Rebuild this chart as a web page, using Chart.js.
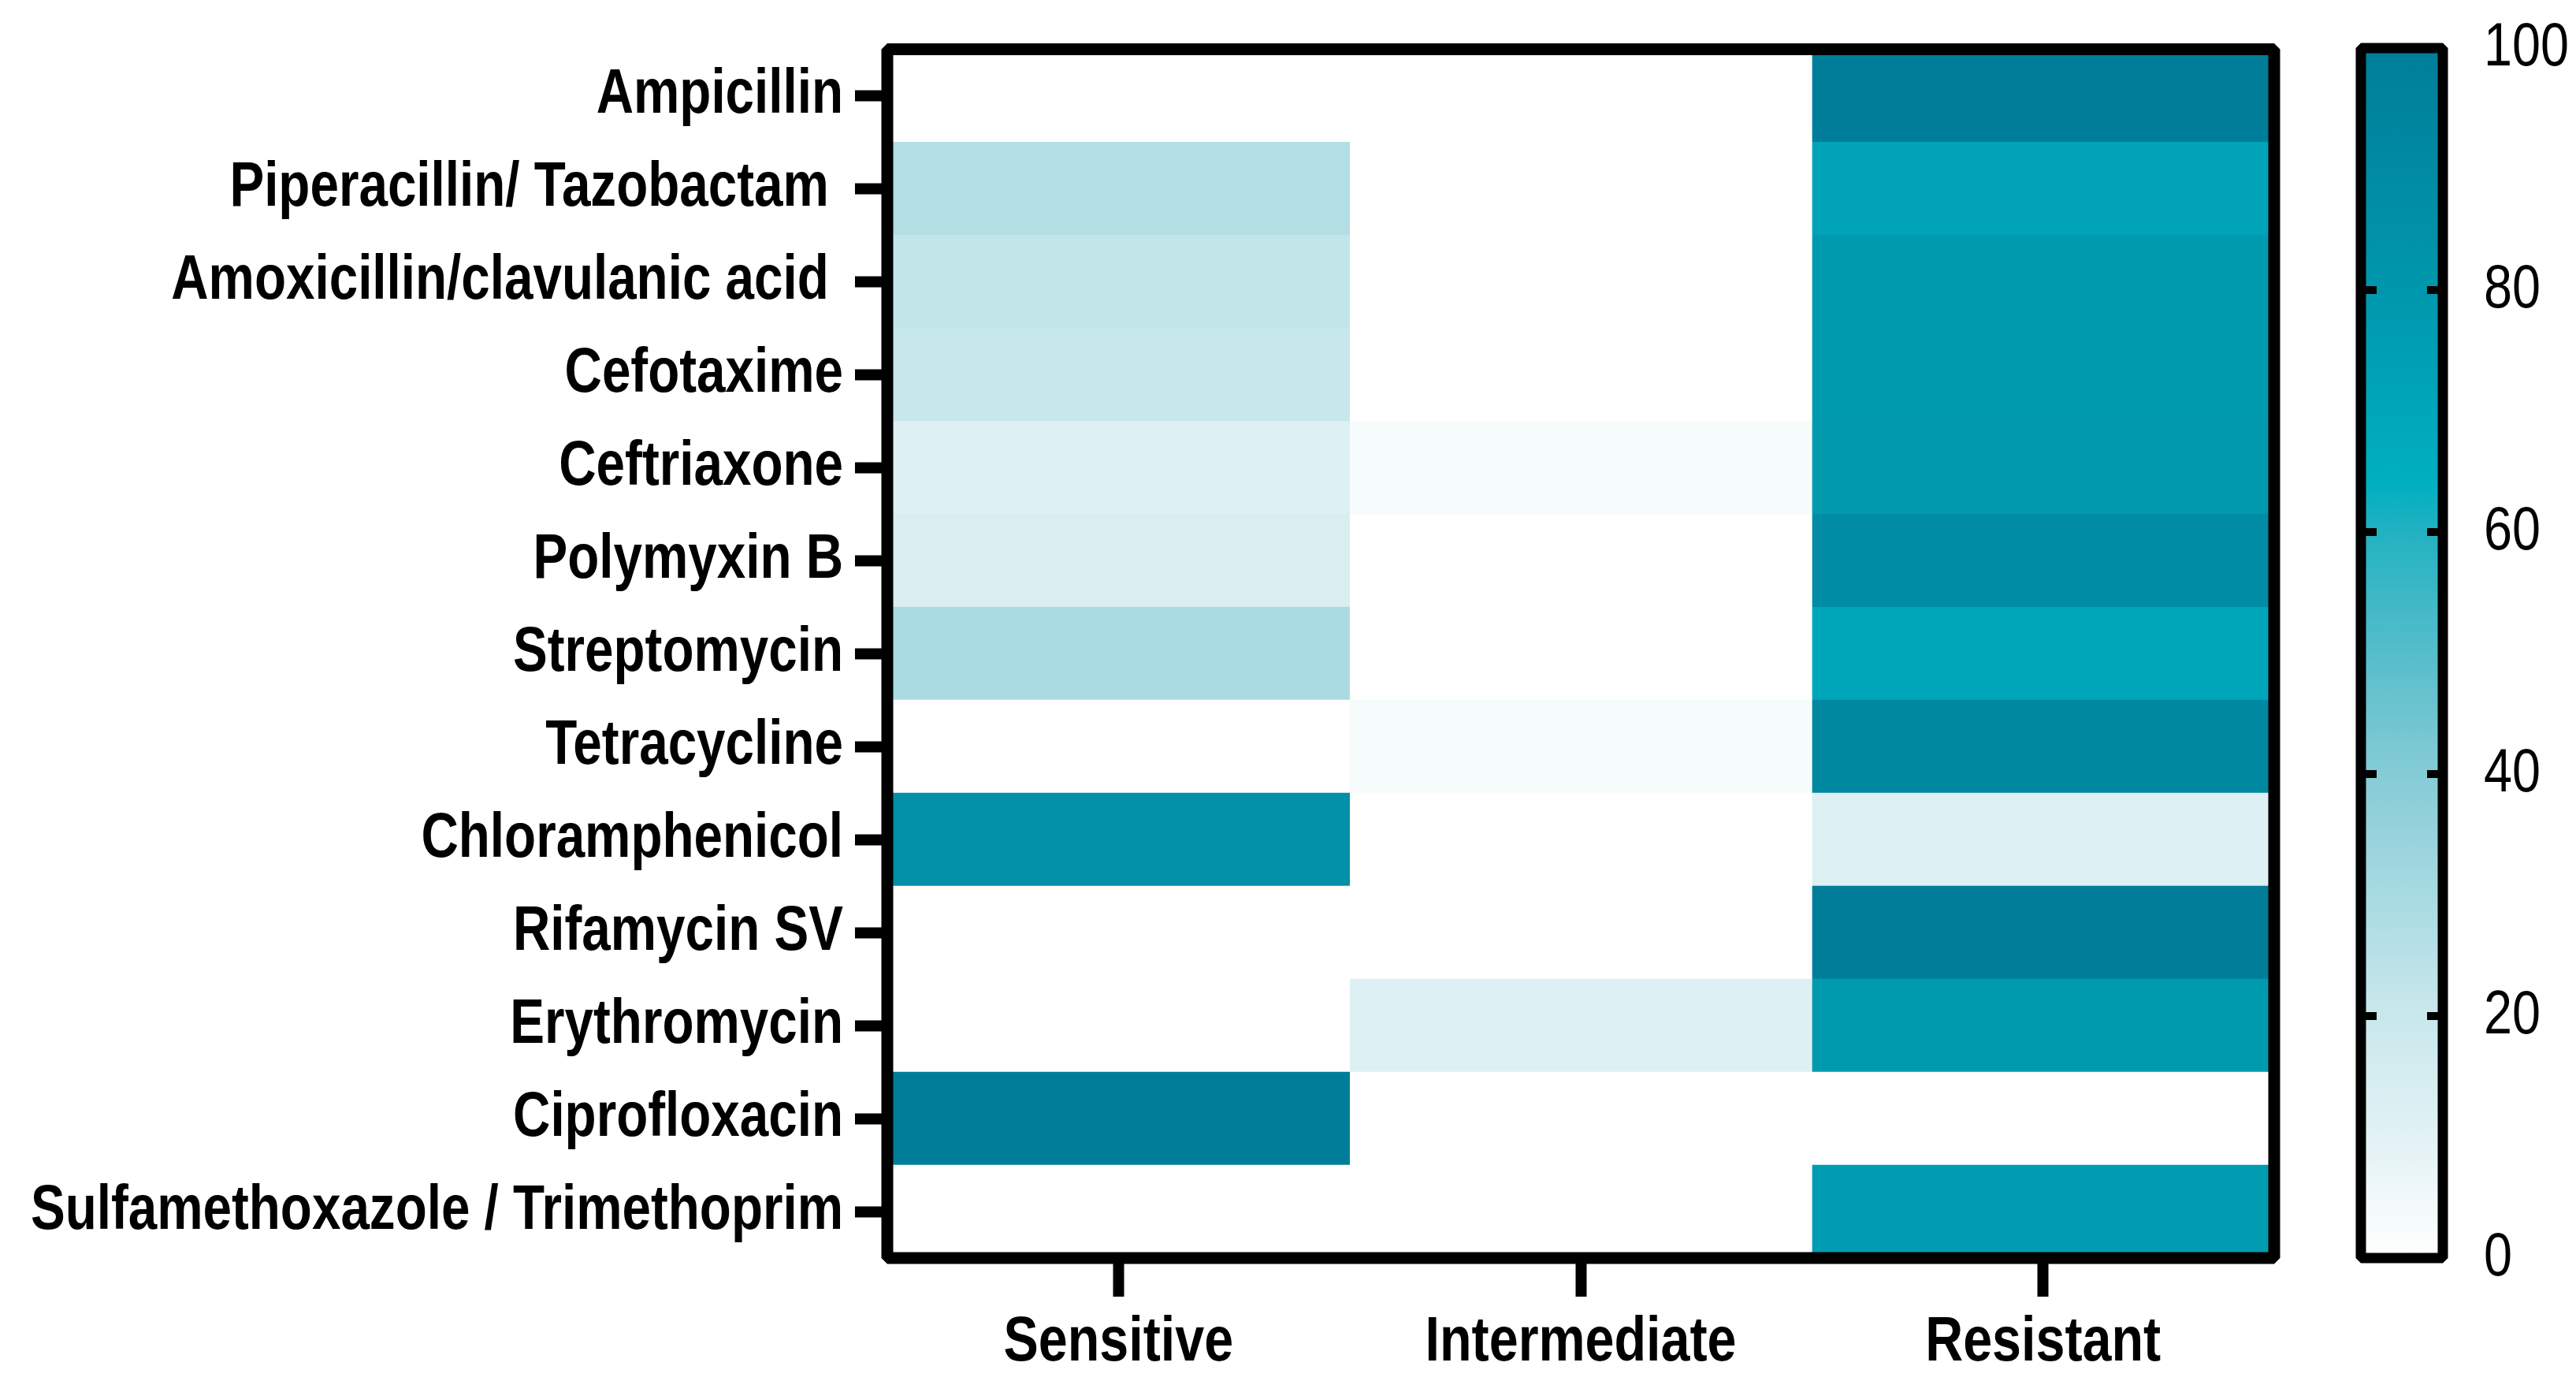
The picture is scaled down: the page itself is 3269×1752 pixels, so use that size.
<!DOCTYPE html>
<html>
<head>
<meta charset="utf-8">
<script src="https://cdn.jsdelivr.net/npm/chart.js@4.4.1/dist/chart.umd.min.js"></script>
<style>
  html, body { margin: 0; padding: 0; background: #fff; }
  #wrap { position: relative; width: 3269px; height: 1752px; }
  #heat { position: absolute; left: 0; top: 0; }
  #bar { position: absolute; left: 2960px; top: 0; }
</style>
</head>
<body>
<div id="wrap">
  <canvas id="heat" width="2960" height="1752"></canvas>
  <canvas id="bar" width="309" height="1752"></canvas>
</div>
<script>
const drugs = [
  'Ampicillin',
  'Piperacillin/ Tazobactam ',
  'Amoxicillin/clavulanic acid ',
  'Cefotaxime',
  'Ceftriaxone',
  'Polymyxin B',
  'Streptomycin',
  'Tetracycline',
  'Chloramphenicol',
  'Rifamycin SV',
  'Erythromycin',
  'Ciprofloxacin',
  'Sulfamethoxazole / Trimethoprim'
]
const columns = ['Sensitive', 'Intermediate', 'Resistant']

const sensitive = [0, 27, 22, 21, 12, 14, 29, 0, 86, 0, 0, 100, 0]
const intermediate = [0, 0, 0, 0, 3, 0, 0, 3, 0, 0, 12, 0, 0]
const resistant = [100, 72, 78, 78, 79, 89, 70, 92, 12, 100, 78, 0, 77]

const scaleTicks = [0, 20, 40, 60, 80, 100]

// colour scale
const stopValues = [0, 10, 20, 30, 40, 50, 60, 64, 80, 100]
const stopColors = ['#ffffff', '#e2f2f5', '#c9e8ec', '#a8dae1', '#85ccd6', '#56bdca', '#22b2c2', '#00afc0', '#0097ad', '#007e99']

const fontFamily = "'Liberation Sans', Arial, sans-serif"

// no narrow face installed, so squeeze the text horizontally
const condense = (canvas, k) => {
  const ctx = canvas.getContext('2d')
  const fill = ctx.fillText.bind(ctx)
  ctx.fillText = function (text, x, y, maxWidth) {
    this.save()
    this.translate(x, y)
    this.scale(k, 1)
    if (maxWidth === undefined) fill(text, 0, 0)
    else fill(text, 0, 0, maxWidth / k)
    this.restore()
  }
}

const hexToRgb = (h) => [1, 3, 5].map(i => parseInt(h.slice(i, i + 2), 16))

const colorFor = (v) => {
  let i = 1
  while (i < stopValues.length - 1 && v > stopValues[i]) i++
  const a = hexToRgb(stopColors[i - 1])
  const b = hexToRgb(stopColors[i])
  const t = Math.max(0, Math.min(1, (v - stopValues[i - 1]) / (stopValues[i] - stopValues[i - 1])))
  const c = a.map((x, k) => Math.round(x + (b[k] - x) * t))
  return `rgb(${c[0]}, ${c[1]}, ${c[2]})`
}

const framePlugin = (width) => ({
  id: 'frame',
  afterDraw(chart) {
    const { ctx, chartArea: a } = chart
    ctx.save()
    ctx.strokeStyle = '#000'
    ctx.lineWidth = width
    ctx.lineJoin = 'bevel'
    ctx.strokeRect(a.left, a.top, a.right - a.left, a.bottom - a.top)
    ctx.restore()
  }
})

// heatmap
const heatCanvas = document.getElementById('heat')
condense(heatCanvas, 0.83)
const valueRows = [sensitive, intermediate, resistant]

new Chart(heatCanvas, {
  type: 'bar',
  data: {
    labels: drugs,
    datasets: valueRows.map((vals, c) => ({
      label: columns[c],
      data: vals.map(() => [c, c + 1]),
      backgroundColor: vals.map(colorFor),
      borderWidth: 0,
      barPercentage: 1,
      categoryPercentage: 1,
      grouped: false
    }))
  },
  options: {
    indexAxis: 'y',
    responsive: false,
    devicePixelRatio: 1,
    animation: false,
    layout: { padding: { top: 61, right: 74, left: 0, bottom: 0 } },
    plugins: {
      legend: { display: false },
      tooltip: { enabled: false }
    },
    scales: {
      x: {
        type: 'linear',
        min: 0,
        max: columns.length,
        afterBuildTicks: (s) => { s.ticks = columns.map((_, i) => ({ value: i + 0.5 })) },
        afterFit: (s) => { s.height = 156 },
        ticks: {
          callback: (v) => columns[Math.floor(v)],
          font: { family: fontFamily, size: 80, weight: 'bold' },
          color: '#000',
          padding: 11,
          maxRotation: 0,
          autoSkip: false
        },
        grid: { drawOnChartArea: false, tickLength: 49, tickWidth: 14, tickColor: '#000' },
        border: { display: false }
      },
      y: {
        afterFit: (s) => { s.width = 1126 },
        ticks: {
          font: { family: fontFamily, size: 79, weight: 'bold' },
          color: '#000',
          padding: 15,
          autoSkip: false
        },
        grid: { offset: false, drawOnChartArea: false, tickLength: 41, tickWidth: 14, tickColor: '#000' },
        border: { display: false }
      }
    }
  },
  plugins: [framePlugin(15)]
})

// colour bar
const innerTicks = {
  id: 'innerTicks',
  afterDraw(chart) {
    const { ctx, chartArea: a } = chart
    const y = chart.scales.y
    ctx.save()
    ctx.fillStyle = '#000'
    scaleTicks.slice(1, -1).forEach(v => {
      const py = y.getPixelForValue(v)
      ctx.fillRect(a.left, py - 5, 20, 10)
      ctx.fillRect(a.right - 20, py - 5, 20, 10)
    })
    ctx.restore()
  }
}

const barCanvas = document.getElementById('bar')
condense(barCanvas, 0.83)

new Chart(barCanvas, {
  type: 'bar',
  data: {
    labels: [''],
    datasets: [{
      data: [[scaleTicks[0], scaleTicks[scaleTicks.length - 1]]],
      backgroundColor: (ctx) => {
        const chart = ctx.chart
        if (!chart.chartArea) return stopColors[stopColors.length - 1]
        const y = chart.scales.y
        const g = chart.ctx.createLinearGradient(0, y.getPixelForValue(0), 0, y.getPixelForValue(100))
        stopValues.forEach((v, i) => g.addColorStop(v / 100, stopColors[i]))
        return g
      },
      borderWidth: 0,
      barPercentage: 1,
      categoryPercentage: 1
    }]
  },
  options: {
    responsive: false,
    devicePixelRatio: 1,
    animation: false,
    layout: { padding: { top: 61, right: 0, left: 36, bottom: 156 } },
    plugins: {
      legend: { display: false },
      tooltip: { enabled: false }
    },
    scales: {
      x: { display: false },
      y: {
        position: 'right',
        min: 0,
        max: 100,
        afterBuildTicks: (s) => { s.ticks = scaleTicks.map(v => ({ value: v })) },
        afterFit: (s) => {
          s.width = 169
          // labels may hang over the bar ends, as in the original
          s.paddingTop = 0
          s.paddingBottom = 0
        },
        ticks: {
          font: { family: fontFamily, size: 78 },
          color: '#000',
          padding: 52
        },
        grid: { drawOnChartArea: false, drawTicks: false },
        border: { display: false }
      }
    }
  },
  plugins: [innerTicks, framePlugin(13)]
})
</script>
</body>
</html>
